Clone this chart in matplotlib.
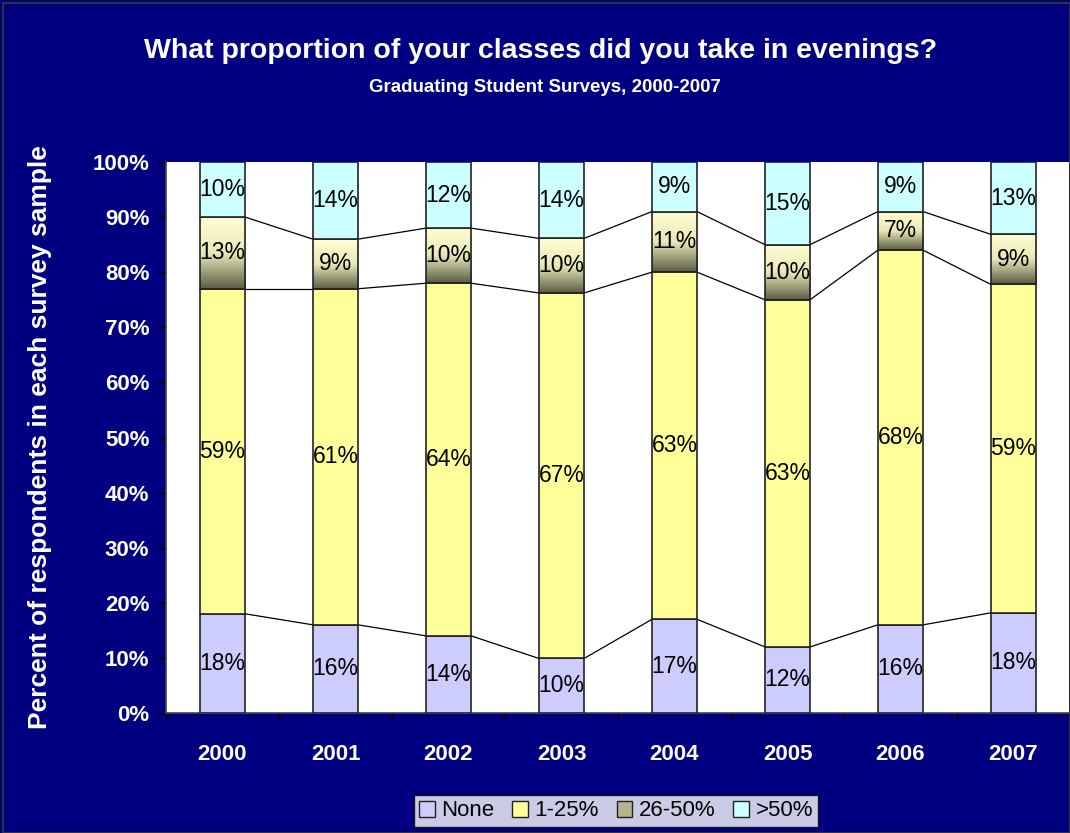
import numpy as np
import matplotlib.pyplot as plt
from matplotlib.colors import LinearSegmentedColormap
from matplotlib.patches import Patch, Rectangle

years = ['2000', '2001', '2002', '2003', '2004', '2005', '2006', '2007']
none_pct = [18, 16, 14, 10, 17, 12, 16, 18]
low_pct = [59, 61, 64, 67, 63, 63, 68, 59]
mid_pct = [13, 9, 10, 10, 11, 10, 7, 9]
high_pct = [10, 14, 12, 14, 9, 15, 9, 13]
series_names = ['None', '1-25%', '26-50%', '>50%']

plt.rcParams['font.family'] = ['Liberation Sans', 'DejaVu Sans']

navy = '#000080'
W, H = 1070, 833
fig = plt.figure(figsize=(W / 100, H / 100), dpi=100, facecolor=navy)
ax = fig.add_axes([166 / W, 1 - 713 / H, 904 / W, 551 / H])
ax.set_facecolor('white')

# 100% stacked: each year's answers scaled to their total
raw = np.array([none_pct, low_pct, mid_pct, high_pct], dtype=float)
share = raw / raw.sum(axis=0) * 100
x = np.arange(len(years))
w = 0.4

fills = ['#ccccff', '#ffff99', None, '#ccffff']
olive = LinearSegmentedColormap.from_list('olive', ['#5c5c45', '#e8e8b8', '#ffffd4'])
edge = '#222222'

bottom = np.zeros(len(years))
tops = []
for k in range(4):
    if fills[k] is None:
        bars = ax.bar(x, share[k], w, bottom=bottom, facecolor='none',
                      edgecolor=edge, linewidth=1.2, zorder=3)
        for b in bars:
            ax.imshow(np.linspace(0, 1, 200).reshape(-1, 1), cmap=olive,
                      origin='lower', aspect='auto', interpolation='bilinear',
                      extent=[b.get_x(), b.get_x() + w, b.get_y(),
                              b.get_y() + b.get_height()], zorder=2.5)
    else:
        ax.bar(x, share[k], w, bottom=bottom, color=fills[k],
               edgecolor=edge, linewidth=1.2, zorder=3)
    for i in range(len(years)):
        ax.text(x[i], bottom[i] + share[k][i] / 2, f'{int(raw[k][i])}%',
                ha='center', va='center', fontsize=16.5, color='black', zorder=4)
    bottom = bottom + share[k]
    tops.append(bottom.copy())

# series lines between neighbouring bars
for cum in tops[:3]:
    for i in range(len(years) - 1):
        ax.plot([x[i] + w / 2, x[i + 1] - w / 2], [cum[i], cum[i + 1]],
                color='black', linewidth=0.9, zorder=2)

ax.set_xlim(-0.5, len(years) - 0.5)
ax.set_ylim(0, 100)

ax.set_yticks(range(0, 101, 10))
ax.set_yticklabels([f'{v}%' for v in range(0, 101, 10)])
ax.tick_params(axis='y', direction='out', length=6, width=1, color='black',
               labelcolor='white', labelsize=16, pad=6)
for t in ax.get_yticklabels():
    t.set_fontweight('bold')

ax.set_xticks(np.arange(-0.5, len(years), 1.0))
ax.set_xticklabels([])
ax.set_xticks(x, minor=True)
ax.set_xticklabels(years, minor=True)
ax.tick_params(axis='x', which='major', direction='out', length=6,
               width=1, color='black')
ax.tick_params(axis='x', which='minor', length=0, labelcolor='white',
               labelsize=16, pad=22)
for t in ax.get_xticklabels(minor=True):
    t.set_fontweight('bold')

for side in ['top', 'right']:
    ax.spines[side].set_visible(False)
for side in ['left', 'bottom']:
    ax.spines[side].set_color('#444444')
    ax.spines[side].set_linewidth(1.2)

fig.text(541 / W, 1 - 51 / H, 'What proportion of your classes did you take in evenings?',
         ha='center', va='center', fontsize=20.5, fontweight='bold', color='white')
fig.text(545 / W, 1 - 87 / H, 'Graduating Student Surveys, 2000-2007',
         ha='center', va='center', fontsize=13.5, fontweight='bold', color='white')
fig.text(40 / W, 1 - 437 / H, 'Percent of respondents in each survey sample',
         ha='center', va='center', rotation=90, fontsize=19,
         fontweight='bold', color='white')

handles = [Patch(facecolor=c, edgecolor=edge, linewidth=1)
           for c in ['#ccccff', '#ffff99', '#b4b48e', '#ccffff']]
leg = fig.legend(handles, series_names, loc='center', ncol=4,
                 bbox_to_anchor=(616 / W, 1 - 811 / H), fontsize=16,
                 frameon=True, fancybox=False, edgecolor='black',
                 handlelength=0.7, handleheight=0.7, handletextpad=0.3,
                 columnspacing=0.8, borderpad=0.25, borderaxespad=0)
leg.get_frame().set_linewidth(1)
leg.get_frame().set_facecolor('white')

fig.patches.append(Rectangle((3 / W, 0), 1 - 3 / W, 1 - 3 / H,
                             transform=fig.transFigure, fill=False,
                             edgecolor='#333333', linewidth=1.5))

fig.savefig('out.png', dpi=100, facecolor=navy)
